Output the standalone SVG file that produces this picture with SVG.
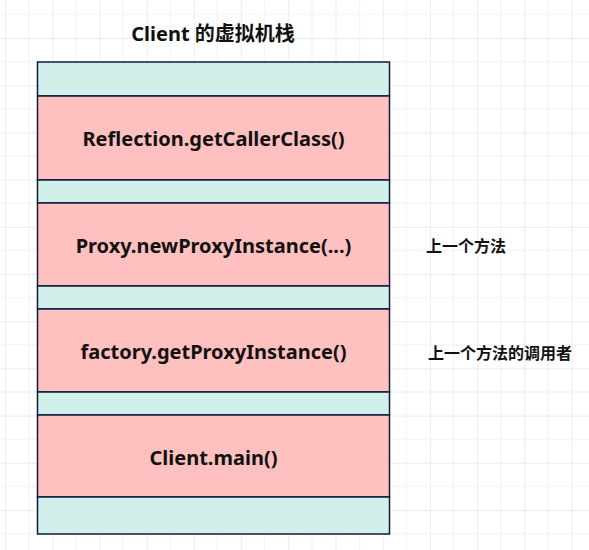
<svg xmlns="http://www.w3.org/2000/svg" width="589" height="550" viewBox="0 0 589 550">
<style>
.t{font-family:"Noto Sans","Noto Sans CJK SC",sans-serif;font-weight:bold;fill:#111;}
.lbl{font-size:20px;text-anchor:middle;dominant-baseline:central;}
.cjk{font-family:"Noto Sans CJK SC",sans-serif;font-weight:bold;fill:#111;font-size:16px;dominant-baseline:central;}
.teal{fill:#d2f0ea;stroke:#0f1a40;stroke-width:1.5;}
.pink{fill:#ffc0c0;stroke:#0f1a40;stroke-width:1.5;}
</style>
<defs>
<pattern id="grid" x="5.1" y="-9.2" width="47.2" height="47.2" patternUnits="userSpaceOnUse">
<path d="M23.6 0V47.2M0 23.6H47.2" stroke="#f0f0f0" stroke-width="1" fill="none"/>
<path d="M0 0V47.2M0 0H47.2" stroke="#dcdcdc" stroke-width="1" fill="none"/>
</pattern>
</defs>
<rect width="589" height="550" fill="#fff"/>
<rect width="589" height="550" fill="url(#grid)"/>
<g id="title"><text class="t" x="213" y="33" font-size="20" text-anchor="middle" dominant-baseline="central">Client 的虚拟机栈</text></g>
<g id="stack">
<rect class="teal" x="37.5" y="62" width="352" height="34"/>
<g id="n1"><rect class="pink" x="37.5" y="96" width="352" height="84"/><text class="t lbl" x="213.5" y="138">Reflection.getCallerClass()</text></g>
<rect class="teal" x="37.5" y="180" width="352" height="23"/>
<g id="n2"><rect class="pink" x="37.5" y="203" width="352" height="83"/><text class="t lbl" x="213.5" y="245">Proxy.newProxyInstance(...)</text></g>
<rect class="teal" x="37.5" y="286" width="352" height="23"/>
<g id="n3"><rect class="pink" x="37.5" y="309" width="352" height="83"/><text class="t lbl" x="213.5" y="351">factory.getProxyInstance()</text></g>
<rect class="teal" x="37.5" y="392" width="352" height="23"/>
<g id="n4"><rect class="pink" x="37.5" y="415" width="352" height="82"/><text class="t lbl" x="213.5" y="457">Client.main()</text></g>
<rect class="teal" x="37.5" y="497" width="352" height="37"/>
</g>
<g id="notes">
<text class="cjk" x="426" y="245">上一个方法</text>
<text class="cjk" x="428" y="352">上一个方法的调用者</text>
</g>
<g id="connectors"/>
</svg>
